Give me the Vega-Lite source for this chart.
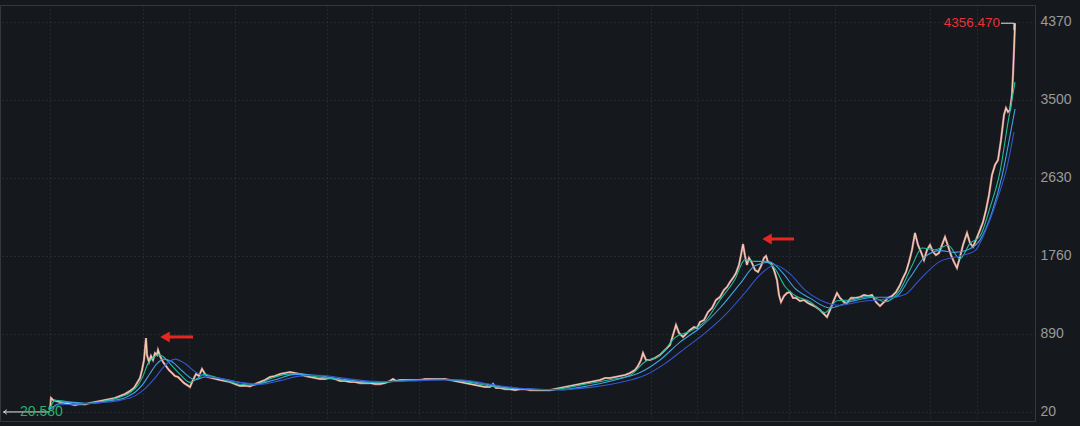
{
  "$schema": "https://vega.github.io/schema/vega-lite/v6.json",
  "width": 1035,
  "height": 416,
  "autosize": {"type": "none"},
  "padding": {"left": 0, "top": 5, "right": 45, "bottom": 5},
  "background": "#15181c",
  "config": {
    "view": {"stroke": "#34373c", "strokeWidth": 1},
    "font": "Liberation Sans",
    "axis": {"title": null}
  },
  "datasets": {
    "price": [
      {"t":50,"v":42},{"t":51,"v":176},{"t":53,"v":154},{"t":56,"v":143},{"t":60,"v":132},{"t":65,"v":120},{"t":70,"v":109},{"t":75,"v":98},{"t":80,"v":109},{"t":85,"v":105},{"t":90,"v":120},{"t":95,"v":132},{"t":100,"v":143},{"t":105,"v":154},{"t":110,"v":165},{"t":115,"v":176},{"t":120,"v":198},{"t":125,"v":221},{"t":130,"v":254},{"t":134,"v":288},{"t":137,"v":343},{"t":140,"v":399},{"t":142,"v":488},{"t":144,"v":600},{"t":146,"v":845},{"t":147,"v":656},{"t":149,"v":578},{"t":151,"v":645},{"t":153,"v":600},{"t":155,"v":678},{"t":157,"v":656},{"t":158,"v":712},{"t":160,"v":645},{"t":163,"v":578},{"t":166,"v":533},{"t":169,"v":488},{"t":172,"v":455},{"t":175,"v":422},{"t":178,"v":410},{"t":181,"v":377},{"t":184,"v":343},{"t":187,"v":321},{"t":190,"v":299},{"t":193,"v":377},{"t":196,"v":444},{"t":199,"v":422},{"t":202,"v":500},{"t":205,"v":444},{"t":208,"v":410},{"t":212,"v":399},{"t":216,"v":388},{"t":220,"v":377},{"t":225,"v":366},{"t":230,"v":355},{"t":235,"v":332},{"t":240,"v":310},{"t":245,"v":315},{"t":250,"v":305},{"t":255,"v":332},{"t":260,"v":355},{"t":265,"v":377},{"t":270,"v":410},{"t":275,"v":422},{"t":280,"v":444},{"t":285,"v":455},{"t":290,"v":466},{"t":295,"v":455},{"t":300,"v":444},{"t":305,"v":422},{"t":310,"v":410},{"t":315,"v":399},{"t":320,"v":388},{"t":325,"v":388},{"t":330,"v":399},{"t":335,"v":388},{"t":340,"v":366},{"t":345,"v":366},{"t":350,"v":355},{"t":355,"v":355},{"t":360,"v":343},{"t":365,"v":343},{"t":370,"v":343},{"t":375,"v":332},{"t":380,"v":332},{"t":385,"v":343},{"t":390,"v":366},{"t":393,"v":388},{"t":396,"v":366},{"t":400,"v":377},{"t":405,"v":377},{"t":410,"v":377},{"t":415,"v":377},{"t":420,"v":377},{"t":425,"v":388},{"t":430,"v":388},{"t":435,"v":388},{"t":440,"v":388},{"t":445,"v":388},{"t":450,"v":377},{"t":455,"v":366},{"t":460,"v":355},{"t":465,"v":343},{"t":470,"v":332},{"t":475,"v":321},{"t":480,"v":310},{"t":485,"v":299},{"t":490,"v":299},{"t":493,"v":332},{"t":496,"v":288},{"t":500,"v":288},{"t":505,"v":276},{"t":510,"v":276},{"t":515,"v":265},{"t":520,"v":276},{"t":525,"v":276},{"t":530,"v":265},{"t":535,"v":265},{"t":540,"v":265},{"t":545,"v":265},{"t":550,"v":265},{"t":555,"v":276},{"t":560,"v":288},{"t":565,"v":299},{"t":570,"v":310},{"t":575,"v":321},{"t":580,"v":332},{"t":585,"v":343},{"t":590,"v":355},{"t":595,"v":366},{"t":600,"v":377},{"t":605,"v":399},{"t":610,"v":399},{"t":615,"v":410},{"t":620,"v":422},{"t":625,"v":433},{"t":630,"v":455},{"t":635,"v":488},{"t":638,"v":533},{"t":641,"v":600},{"t":643,"v":678},{"t":646,"v":600},{"t":650,"v":600},{"t":655,"v":622},{"t":660,"v":656},{"t":665,"v":712},{"t":670,"v":767},{"t":673,"v":879},{"t":676,"v":990},{"t":679,"v":901},{"t":683,"v":857},{"t":687,"v":901},{"t":690,"v":935},{"t":694,"v":968},{"t":697,"v":957},{"t":700,"v":1024},{"t":704,"v":1046},{"t":708,"v":1135},{"t":712,"v":1180},{"t":716,"v":1269},{"t":720,"v":1303},{"t":724,"v":1381},{"t":727,"v":1414},{"t":730,"v":1470},{"t":733,"v":1515},{"t":736,"v":1570},{"t":739,"v":1660},{"t":741,"v":1771},{"t":743,"v":1894},{"t":745,"v":1760},{"t":747,"v":1660},{"t":749,"v":1738},{"t":752,"v":1682},{"t":755,"v":1604},{"t":758,"v":1582},{"t":761,"v":1648},{"t":764,"v":1738},{"t":766,"v":1760},{"t":768,"v":1693},{"t":771,"v":1682},{"t":774,"v":1604},{"t":777,"v":1492},{"t":779,"v":1325},{"t":781,"v":1247},{"t":784,"v":1314},{"t":787,"v":1347},{"t":790,"v":1358},{"t":793,"v":1292},{"t":796,"v":1292},{"t":800,"v":1258},{"t":804,"v":1269},{"t":808,"v":1236},{"t":812,"v":1213},{"t":816,"v":1191},{"t":820,"v":1158},{"t":824,"v":1113},{"t":827,"v":1079},{"t":830,"v":1158},{"t":834,"v":1269},{"t":837,"v":1347},{"t":840,"v":1292},{"t":844,"v":1247},{"t":847,"v":1236},{"t":851,"v":1292},{"t":855,"v":1292},{"t":860,"v":1303},{"t":864,"v":1325},{"t":868,"v":1314},{"t":872,"v":1325},{"t":876,"v":1247},{"t":880,"v":1202},{"t":884,"v":1247},{"t":888,"v":1292},{"t":892,"v":1314},{"t":896,"v":1358},{"t":900,"v":1437},{"t":903,"v":1515},{"t":906,"v":1582},{"t":909,"v":1693},{"t":912,"v":1827},{"t":915,"v":2017},{"t":918,"v":1883},{"t":921,"v":1805},{"t":924,"v":1715},{"t":927,"v":1827},{"t":930,"v":1883},{"t":933,"v":1805},{"t":936,"v":1771},{"t":939,"v":1794},{"t":942,"v":1883},{"t":945,"v":1972},{"t":948,"v":1872},{"t":951,"v":1771},{"t":954,"v":1693},{"t":957,"v":1627},{"t":960,"v":1749},{"t":963,"v":1883},{"t":967,"v":2017},{"t":970,"v":1905},{"t":973,"v":1861},{"t":976,"v":1939},{"t":980,"v":2050},{"t":983,"v":2139},{"t":986,"v":2273},{"t":989,"v":2441},{"t":992,"v":2664},{"t":995,"v":2775},{"t":998,"v":2831},{"t":1001,"v":3054},{"t":1004,"v":3333},{"t":1006,"v":3411},{"t":1008,"v":3367},{"t":1010,"v":3389},{"t":1012,"v":3556},{"t":1013,"v":3779},{"t":1014,"v":4058},{"t":1015,"v":4356.47}
    ],
    "ma": [
      {"s":"a","t":50,"v":60},{"s":"a","t":55,"v":150},{"s":"a","t":65,"v":140},{"s":"a","t":80,"v":110},{"s":"a","t":95,"v":125},{"s":"a","t":110,"v":155},{"s":"a","t":120,"v":185},{"s":"a","t":130,"v":235},{"s":"a","t":138,"v":320},{"s":"a","t":143,"v":420},{"s":"a","t":148,"v":560},{"s":"a","t":153,"v":620},{"s":"a","t":158,"v":660},{"s":"a","t":163,"v":640},{"s":"a","t":170,"v":560},{"s":"a","t":180,"v":440},{"s":"a","t":190,"v":350},{"s":"a","t":197,"v":390},{"s":"a","t":204,"v":440},{"s":"a","t":212,"v":420},{"s":"a","t":225,"v":375},{"s":"a","t":240,"v":330},{"s":"a","t":255,"v":320},{"s":"a","t":270,"v":390},{"s":"a","t":285,"v":440},{"s":"a","t":300,"v":450},{"s":"a","t":315,"v":415},{"s":"a","t":330,"v":395},{"s":"a","t":350,"v":370},{"s":"a","t":370,"v":350},{"s":"a","t":390,"v":355},{"s":"a","t":410,"v":375},{"s":"a","t":440,"v":385},{"s":"a","t":470,"v":350},{"s":"a","t":495,"v":300},{"s":"a","t":520,"v":278},{"s":"a","t":550,"v":268},{"s":"a","t":580,"v":320},{"s":"a","t":610,"v":380},{"s":"a","t":630,"v":430},{"s":"a","t":645,"v":580},{"s":"a","t":660,"v":650},{"s":"a","t":675,"v":850},{"s":"a","t":690,"v":920},{"s":"a","t":705,"v":1030},{"s":"a","t":720,"v":1270},{"s":"a","t":735,"v":1500},{"s":"a","t":745,"v":1720},{"s":"a","t":755,"v":1700},{"s":"a","t":765,"v":1700},{"s":"a","t":775,"v":1620},{"s":"a","t":785,"v":1420},{"s":"a","t":795,"v":1320},{"s":"a","t":810,"v":1250},{"s":"a","t":825,"v":1130},{"s":"a","t":837,"v":1260},{"s":"a","t":850,"v":1270},{"s":"a","t":870,"v":1310},{"s":"a","t":885,"v":1250},{"s":"a","t":900,"v":1380},{"s":"a","t":912,"v":1650},{"s":"a","t":922,"v":1850},{"s":"a","t":935,"v":1830},{"s":"a","t":948,"v":1880},{"s":"a","t":960,"v":1730},{"s":"a","t":970,"v":1900},{"s":"a","t":980,"v":1980},{"s":"a","t":990,"v":2300},{"s":"a","t":1000,"v":2700},{"s":"a","t":1008,"v":3250},{"s":"a","t":1015,"v":3700},
      {"s":"b","t":50,"v":50},{"s":"b","t":58,"v":110},{"s":"b","t":70,"v":130},{"s":"b","t":90,"v":115},{"s":"b","t":110,"v":145},{"s":"b","t":125,"v":180},{"s":"b","t":135,"v":240},{"s":"b","t":143,"v":330},{"s":"b","t":150,"v":450},{"s":"b","t":157,"v":560},{"s":"b","t":164,"v":610},{"s":"b","t":172,"v":580},{"s":"b","t":182,"v":480},{"s":"b","t":195,"v":380},{"s":"b","t":205,"v":410},{"s":"b","t":218,"v":400},{"s":"b","t":235,"v":360},{"s":"b","t":255,"v":330},{"s":"b","t":275,"v":380},{"s":"b","t":295,"v":440},{"s":"b","t":315,"v":430},{"s":"b","t":340,"v":390},{"s":"b","t":370,"v":355},{"s":"b","t":400,"v":365},{"s":"b","t":440,"v":385},{"s":"b","t":475,"v":355},{"s":"b","t":500,"v":300},{"s":"b","t":530,"v":275},{"s":"b","t":560,"v":268},{"s":"b","t":590,"v":315},{"s":"b","t":620,"v":390},{"s":"b","t":640,"v":460},{"s":"b","t":660,"v":600},{"s":"b","t":680,"v":800},{"s":"b","t":700,"v":960},{"s":"b","t":720,"v":1180},{"s":"b","t":740,"v":1450},{"s":"b","t":755,"v":1650},{"s":"b","t":770,"v":1690},{"s":"b","t":782,"v":1580},{"s":"b","t":795,"v":1400},{"s":"b","t":810,"v":1290},{"s":"b","t":830,"v":1180},{"s":"b","t":850,"v":1250},{"s":"b","t":875,"v":1300},{"s":"b","t":895,"v":1300},{"s":"b","t":910,"v":1520},{"s":"b","t":925,"v":1750},{"s":"b","t":940,"v":1820},{"s":"b","t":955,"v":1800},{"s":"b","t":968,"v":1830},{"s":"b","t":980,"v":1940},{"s":"b","t":992,"v":2250},{"s":"b","t":1002,"v":2650},{"s":"b","t":1010,"v":3100},{"s":"b","t":1015,"v":3400},
      {"s":"c","t":50,"v":40},{"s":"c","t":60,"v":100},{"s":"c","t":80,"v":110},{"s":"c","t":100,"v":125},{"s":"c","t":120,"v":150},{"s":"c","t":135,"v":200},{"s":"c","t":145,"v":280},{"s":"c","t":155,"v":400},{"s":"c","t":165,"v":540},{"s":"c","t":175,"v":610},{"s":"c","t":185,"v":560},{"s":"c","t":195,"v":470},{"s":"c","t":205,"v":420},{"s":"c","t":220,"v":395},{"s":"c","t":240,"v":350},{"s":"c","t":260,"v":330},{"s":"c","t":280,"v":370},{"s":"c","t":300,"v":420},{"s":"c","t":320,"v":430},{"s":"c","t":345,"v":395},{"s":"c","t":380,"v":360},{"s":"c","t":420,"v":370},{"s":"c","t":460,"v":380},{"s":"c","t":490,"v":330},{"s":"c","t":520,"v":285},{"s":"c","t":560,"v":268},{"s":"c","t":590,"v":295},{"s":"c","t":620,"v":350},{"s":"c","t":645,"v":430},{"s":"c","t":665,"v":560},{"s":"c","t":685,"v":730},{"s":"c","t":705,"v":900},{"s":"c","t":725,"v":1100},{"s":"c","t":745,"v":1350},{"s":"c","t":760,"v":1550},{"s":"c","t":775,"v":1660},{"s":"c","t":790,"v":1560},{"s":"c","t":805,"v":1380},{"s":"c","t":820,"v":1270},{"s":"c","t":840,"v":1210},{"s":"c","t":860,"v":1250},{"s":"c","t":885,"v":1280},{"s":"c","t":905,"v":1330},{"s":"c","t":920,"v":1500},{"s":"c","t":940,"v":1700},{"s":"c","t":960,"v":1760},{"s":"c","t":975,"v":1820},{"s":"c","t":987,"v":2080},{"s":"c","t":997,"v":2385},{"s":"c","t":1007,"v":2753},{"s":"c","t":1014,"v":3143}
    ],
    "arrows": [
      {"t":168,"t2":193,"v":857,"th":165},
      {"t":770,"t2":794,"v":1950,"th":767}
    ],
    "hmarks": [
      {"t":1001,"t2":1014,"v":4356.47},
      {"t":3,"t2":50,"v":20.58}
    ],
    "vmark": [
      {"t":1014,"v":4356.47,"v2":4280}
    ],
    "minhead": [
      {"t":4,"v":20.58}
    ],
    "maxlabel": [
      {"t":1000,"v":4356.47,"txt":"4356.470"}
    ],
    "minlabel": [
      {"t":20,"v":20.58,"txt":"20.580"}
    ]
  },
  "layer": [
    {
      "data": {"name": "price"},
      "mark": {"type": "line", "color": "#e296b4", "strokeWidth": 2.2, "opacity": 0.8},
      "encoding": {
        "x": {
          "field": "t", "type": "quantitative",
          "scale": {"domain": [0, 1035], "nice": false, "zero": false},
          "axis": {
            "title": null, "orient": "bottom",
            "values": [50,143,189,235,327,372,419,465,511,558,651,697,742,789,835,930,977],
            "labels": false, "ticks": false, "domain": false,
            "grid": true, "gridColor": "#363a40", "gridDash": [1, 3], "gridWidth": 1
          }
        },
        "y": {
          "field": "v", "type": "quantitative",
          "scale": {"domain": [-80.4, 4559.6], "nice": false, "zero": false},
          "axis": {
            "title": null, "orient": "right",
            "values": [20, 890, 1760, 2630, 3500, 4370],
            "format": "d",
            "ticks": false, "domain": false,
            "labelColor": "#9a9a9a", "labelFontSize": 14, "labelPadding": 5,
            "labelFont": "Liberation Sans",
            "grid": true, "gridColor": "#363a40", "gridDash": [1, 3], "gridWidth": 1
          }
        }
      }
    },
    {
      "data": {"name": "price"},
      "mark": {"type": "line", "color": "#f5d2a8", "strokeWidth": 1.1},
      "encoding": {
        "x": {"field": "t", "type": "quantitative"},
        "y": {"field": "v", "type": "quantitative"}
      }
    },
    {
      "data": {"name": "ma"},
      "mark": {"type": "line", "strokeWidth": 1.1, "interpolate": "monotone"},
      "encoding": {
        "x": {"field": "t", "type": "quantitative"},
        "y": {"field": "v", "type": "quantitative"},
        "color": {
          "field": "s", "type": "nominal",
          "scale": {"domain": ["a", "b", "c"], "range": ["#1fbf9c", "#3fa2e6", "#3556d2"]},
          "legend": null
        }
      }
    },
    {
      "data": {"name": "arrows"},
      "mark": {"type": "rule", "color": "#e8261f", "strokeWidth": 3},
      "encoding": {
        "x": {"field": "t", "type": "quantitative"},
        "x2": {"field": "t2"},
        "y": {"field": "v", "type": "quantitative"}
      }
    },
    {
      "data": {"name": "arrows"},
      "mark": {"type": "point", "shape": "triangle-left", "filled": true, "color": "#e8261f", "size": 120, "opacity": 1},
      "encoding": {
        "x": {"field": "th", "type": "quantitative"},
        "y": {"field": "v", "type": "quantitative"}
      }
    },
    {
      "data": {"name": "hmarks"},
      "mark": {"type": "rule", "color": "#e6e6e6", "strokeWidth": 1},
      "encoding": {
        "x": {"field": "t", "type": "quantitative"},
        "x2": {"field": "t2"},
        "y": {"field": "v", "type": "quantitative"}
      }
    },
    {
      "data": {"name": "vmark"},
      "mark": {"type": "rule", "color": "#e6e6e6", "strokeWidth": 1},
      "encoding": {
        "x": {"field": "t", "type": "quantitative"},
        "y": {"field": "v", "type": "quantitative"},
        "y2": {"field": "v2"}
      }
    },
    {
      "data": {"name": "minhead"},
      "mark": {"type": "point", "shape": "M0,0L1,-0.8M0,0L1,0.8", "filled": false, "color": "#e6e6e6", "strokeWidth": 1, "size": 30, "opacity": 1},
      "encoding": {
        "x": {"field": "t", "type": "quantitative"},
        "y": {"field": "v", "type": "quantitative"}
      }
    },
    {
      "data": {"name": "maxlabel"},
      "mark": {"type": "text", "align": "right", "baseline": "middle", "fontSize": 13.5, "font": "Liberation Sans", "color": "#e8323a"},
      "encoding": {
        "x": {"field": "t", "type": "quantitative"},
        "y": {"field": "v", "type": "quantitative"},
        "text": {"field": "txt"}
      }
    },
    {
      "data": {"name": "minlabel"},
      "mark": {"type": "text", "align": "left", "baseline": "middle", "fontSize": 14, "font": "Liberation Sans", "color": "#27b36a"},
      "encoding": {
        "x": {"field": "t", "type": "quantitative"},
        "y": {"field": "v", "type": "quantitative"},
        "text": {"field": "txt"}
      }
    }
  ]
}
